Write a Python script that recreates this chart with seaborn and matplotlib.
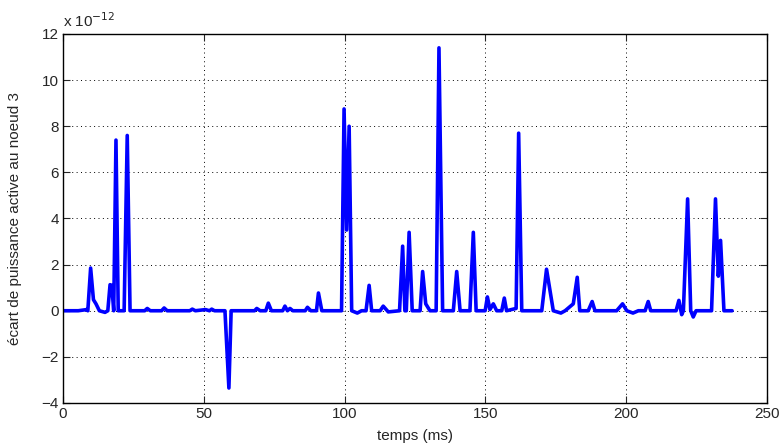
import matplotlib
matplotlib.use("Agg")
import matplotlib.pyplot as plt
import seaborn as sns
import pandas as pd

# time (ms) and active power deviation at node 3 (units of 1e-12)
temps_ms = [0, 1.1, 5.4, 8.4, 8.8, 9.8, 10.8, 11.7, 12.9, 14.9, 15.9, 16.7, 17.3, 18.0,
            18.8, 19.6, 21.7, 22.8, 23.8, 29.0, 29.9, 31.0, 35.0, 35.9, 37.0, 45.0, 45.9,
            47.0, 50.6, 52.0, 52.8, 53.8, 57.5, 58.9, 59.7, 68.0, 68.8, 70.0, 72.0, 72.9,
            74.0, 78.0, 78.8, 79.7, 80.6, 81.6, 86.0, 86.8, 88.0, 90.0, 90.7, 91.9, 98.9,
            99.8, 100.7, 101.6, 102.5, 104.5, 106.0, 107.6, 108.7, 109.6, 112.6, 113.7,
            115.5, 119.5, 120.6, 121.4, 121.9, 122.9, 124.0, 126.8, 127.7, 128.8, 130.3,
            132.5, 133.5, 134.8, 138.6, 139.8, 141.0, 144.5, 145.7, 146.7, 149.9, 150.7,
            151.6, 152.8, 154.0, 155.8, 156.7, 157.5, 160.9, 161.8, 162.9, 170.0, 171.7,
            174.1, 176.8, 178.3, 181.2, 182.6, 183.5, 186.5, 187.9, 188.9, 196.6, 198.7,
            200.2, 202.4, 204.3, 206.7, 207.8, 208.7, 217.7, 218.7, 219.7, 220.3, 221.8,
            222.9, 223.8, 224.8, 230.3, 231.7, 232.7, 233.5, 234.7, 237.6]
ecart = [0, 0, 0, 0.05, 0, 1.85, 0.48, 0.3, 0, -0.07, 0, 1.13, 1.1, 0,
         7.4, 0, 0, 7.6, 0, 0, 0.1, 0, 0, 0.12, 0, 0, 0.07,
         0, 0.05, 0, 0.07, 0, 0, -3.35, 0, 0, 0.1, 0, 0, 0.33,
         0, 0, 0.2, 0, 0.1, 0, 0, 0.15, 0, 0, 0.77, 0, 0,
         8.75, 3.5, 8.0, 0, -0.1, 0, 0, 1.1, 0, 0, 0.2,
         -0.05, 0, 2.8, 0, 0, 3.4, 0, 0, 1.7, 0.3, 0,
         0, 11.4, 0, 0, 1.7, 0, 0, 3.4, 0, 0, 0.6,
         0.05, 0.3, 0, 0, 0.55, 0, 0.1, 7.7, 0, 0, 1.8,
         0, -0.1, 0, 0.3, 1.45, 0, 0, 0.4, 0, 0, 0.3,
         0, -0.1, 0, 0, 0.4, 0, 0, 0.45, -0.17, 0, 4.85,
         0, -0.27, 0, 0, 4.85, 1.5, 3.05, 0, 0]
x_ticks = [0, 50, 100, 150, 200, 250]
y_ticks = [-4, -2, 0, 2, 4, 6, 8, 10, 12]

sns.set_style("ticks")
plt.rcParams['font.family'] = ['Liberation Sans', 'DejaVu Sans']

df = pd.DataFrame({"temps": temps_ms, "ecart": ecart})

fig = plt.figure(figsize=(7.83, 4.45), dpi=100)
ax = fig.add_axes([0.0805, 0.0944, 0.8991, 0.8292])
sns.lineplot(data=df, x="temps", y="ecart", ax=ax, color="#0000ff", lw=2.6,
             estimator=None, sort=False)

ax.set_xlim(0, 250)
ax.set_ylim(-4, 12)
ax.set_xticks(x_ticks)
ax.set_yticks(y_ticks)
ax.set_yticklabels([str(t).replace('-', '\u2212') for t in y_ticks])
ax.grid(True, linestyle=(0, (1, 3.5)), color='black', lw=0.7)
ax.tick_params(direction='in', top=True, right=True, labelsize=11, length=5,
               width=0.8, pad=3)
for s in ax.spines.values():
    s.set_visible(True)
    s.set_linewidth(1.0)
    s.set_color('black')
ax.set_xlabel("temps (ms)", fontsize=11, labelpad=6)
ax.set_ylabel("écart de puissance active au noeud 3", fontsize=11, labelpad=14)
ax.text(0.0, 1.012, r"x 10$^{-12}$", transform=ax.transAxes, fontsize=11,
        ha='left', va='bottom')

fig.savefig("out.png", dpi=100)
